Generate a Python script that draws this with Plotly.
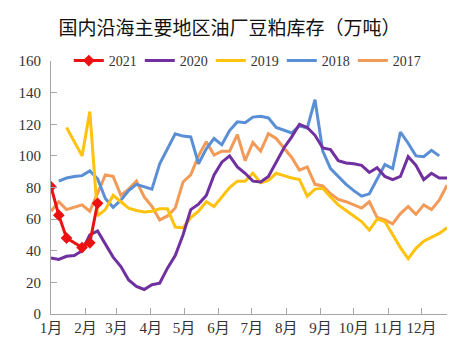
import plotly.graph_objects as go

weeks = ["01-01","01-08","01-15","01-22","01-29","02-05","02-12","02-19","02-26",
         "03-05","03-12","03-19","03-26","04-02","04-09","04-16","04-23","04-30",
         "05-07","05-14","05-21","05-28","06-04","06-11","06-18","06-25",
         "07-02","07-09","07-16","07-23","07-30","08-06","08-13","08-20","08-27",
         "09-03","09-10","09-17","09-24","10-01","10-08","10-15","10-22","10-29",
         "11-05","11-12","11-19","11-26","12-03","12-10","12-17","12-24"]

weeks_2021 = ["01-01","01-08","01-15","01-29","02-05","02-12"]
v2021 = [80.5, 62.5, 48, 42, 45, 70]

v2020 = [35.5,34.5,36.5,37,40,50,52.5,44,36,30,21.5,17.5,15.5,18.5,19.5,29,37,50,66,69.5,
         75,88,96,100,93,89,84,83.5,87,96,105,112,120,118,113,105,104,97,95.5,95,94,89.5,
         92.5,87,85,87,99.5,94,85,89,86,86]
v2019 = [None,None,118,109,100,128,62,66,75,71,67,65.5,64.5,65,66.5,66.5,55,54.5,61,65,71,
         68,74,80,84,84,89,83,84.5,89,87.5,86,85,74.5,79,79.5,74,69,65.5,62,58.5,53,60,58.5,
         50,42,35,41.5,46,48.5,51,54.5]
v2018 = [None,84,86,87,87.5,90.5,85.5,73,67.5,72,78,82,80.5,79,95,105,114,112.5,112,95,104.5,
         111,107,116,121.5,121,124.5,125,124,118,116,114.5,119,117.5,135.5,103,92,87,82,78,
         74.5,76,85,94.5,92,115,108,100,99.5,103.5,100,None]
v2017 = [65,71,66,67.5,69,65,76,88,87,75,79,84,74,68,59.5,62,67,83.5,88,100,109,100.5,103,
         103,113.5,97,108.5,103,114,111,105,99,91,93,82,81,76,72.5,71,69,67,71,61,59.5,57,
         63.5,68,63,69,66,72,81.5]

month_ticks = ["01-01","02-01","03-01","04-01","05-01","06-01","07-01","08-01","09-01",
               "10-01","11-01","12-01"]
month_labels = ["1月","2月","3月","4月","5月","6月","7月","8月","9月","10月","11月","12月"]
y_ticks = [0, 20, 40, 60, 80, 100, 120, 140, 160]

YEAR = "2021-"
def d(lst):
    return [YEAR + s for s in lst]

font_fam = "Liberation Serif, Noto Sans CJK SC, serif"

fig = go.Figure()
series = [
    ("2017", v2017, "#F39A56"),
    ("2018", v2018, "#5A8FD6"),
    ("2019", v2019, "#FFC20E"),
    ("2020", v2020, "#7030A0"),
]
for name, vals, col in series:
    fig.add_trace(go.Scatter(x=d(weeks), y=vals, name=name, mode="lines",
                             line=dict(color=col, width=3), connectgaps=False))
fig.add_trace(go.Scatter(x=d(weeks_2021), y=v2021, name="2021", mode="lines+markers",
                         line=dict(color="#EE1111", width=3),
                         marker=dict(symbol="diamond", size=9, color="#EE1111")))

fig.update_layout(
    width=474, height=353,
    margin=dict(l=51, r=27, t=61, b=39),
    paper_bgcolor="white", plot_bgcolor="white",
    font=dict(family=font_fam, size=15, color="#333333"),
    title=dict(text="国内沿海主要地区油厂豆粕库存（万吨）", x=0.484, xref="container",
               xanchor="center", y=0.92, yref="container", yanchor="middle",
               font=dict(family="Noto Sans CJK SC", size=19, color="#111111")),
    showlegend=True,
    legend=dict(orientation="h", traceorder="reversed", x=0.045, y=1.0,
                xanchor="left", yanchor="middle", font=dict(size=14, color="#333333"),
                bgcolor="rgba(0,0,0,0)", itemwidth=30, entrywidth=26, entrywidthmode="pixels"),
    xaxis=dict(type="date", range=[YEAR + "01-01", YEAR + "12-24"],
               tickmode="array", tickvals=d(month_ticks), ticktext=month_labels,
               showgrid=False, zeroline=False, showline=True, linecolor="#A6A6A6",
               linewidth=1, ticks="inside", ticklen=6, tickcolor="#A6A6A6",
               tickfont=dict(size=15)),
    yaxis=dict(range=[0, 160], tickmode="array", tickvals=y_ticks,
               showgrid=False, zeroline=False, showline=True, linecolor="#A6A6A6",
               linewidth=1, ticks="inside", ticklen=6, tickcolor="#A6A6A6",
               tickfont=dict(size=15), ticklabelstandoff=6),
)

fig.write_html("out.html")
